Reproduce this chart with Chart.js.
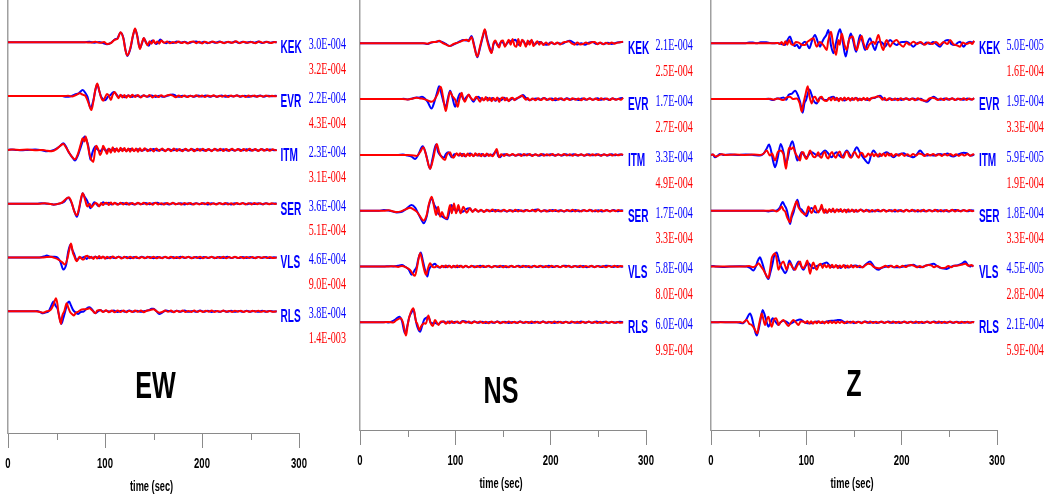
<!DOCTYPE html>
<html>
<head>
<meta charset="utf-8">
<script src="https://cdn.jsdelivr.net/npm/chart.js@4/dist/chart.umd.min.js"></script>
<style>
  html, body { margin: 0; padding: 0; background: #ffffff; }
  #wrap { position: relative; width: 1050px; height: 497px; overflow: hidden; }
  .panel { position: absolute; top: 0; width: 350px; height: 497px; }
</style>
</head>
<body>
<div id="wrap">
  <div class="panel" style="left:0px"><canvas id="c0" width="350" height="497"></canvas></div>
  <div class="panel" style="left:350px"><canvas id="c1" width="350" height="497"></canvas></div>
  <div class="panel" style="left:700px"><canvas id="c2" width="350" height="497"></canvas></div>
</div>
<script>
// ---------------- DATA ----------------
const components = ["EW", "NS", "Z"];
const stations = ["KEK", "EVR", "ITM", "SER", "VLS", "RLS"];
const xTickValues = [0, 50, 100, 150, 200, 250, 300];
const xAxisTitle = "time (sec)";

// peak amplitudes printed beside each trace (blue = observed, red = synthetic)
const ewBlueAmp = ["3.0E-004", "2.2E-004", "2.3E-004", "3.6E-004", "4.6E-004", "3.8E-004"];
const ewRedAmp  = ["3.2E-004", "4.3E-004", "3.1E-004", "5.1E-004", "9.0E-004", "1.4E-003"];
const nsBlueAmp = ["2.1E-004", "1.7E-004", "3.3E-004", "1.7E-004", "5.8E-004", "6.0E-004"];
const nsRedAmp  = ["2.5E-004", "2.7E-004", "4.9E-004", "3.3E-004", "8.0E-004", "9.9E-004"];
const zBlueAmp  = ["5.0E-005", "1.9E-004", "5.9E-005", "1.8E-004", "4.5E-005", "2.1E-004"];
const zRedAmp   = ["1.6E-004", "3.3E-004", "1.9E-004", "3.3E-004", "2.8E-004", "5.9E-004"];

// traces: flat lists of [time (s), normalised amplitude] pairs
// ---- EW ----
const ewKekBlue = [0,0, 78,0, 84,.03, 89,-.03, 94,.02, 98,-.06, 102,-.14, 106,-.04, 110,.2, 113,.3, 116,.7, 119,.3, 121,-.5, 123,-.98, 126,-.5, 129,.5, 131,.93, 133,.55, 136,-.42, 138,-.1, 140,.28, 142,.05, 145,-.25, 147,0, 149,.12, 151,-.02, 153,-.13, 155,.02, 157,.2, 160,.02, 163,-.06, 166,.04, 170,-.05, 174,.05, 178,-.03, 182,.04, 186,-.06, 190,.03, 194,.06, 198,-.04, 202,.03, 206,-.06, 210,.04, 214,-.03, 218,.05, 222,-.04, 226,.02, 230,-.03, 234,.06, 238,-.05, 242,.03, 246,-.04, 250,.04, 254,-.03, 258,.05, 262,-.05, 266,.04, 270,-.03, 274,.02, 277,0];
const ewKekRed = [0,0, 80,0, 85,-.02, 90,.03, 95,-.04, 99,.02, 102,-.12, 106,-.06, 110,.18, 113,.25, 116,.72, 119,.25, 121,-.55, 123,-.95, 126,-.45, 129,.55, 131,.98, 133,.5, 136,-.48, 138,-.05, 140,.3, 142,0, 144,-.22, 146,.08, 148,-.1, 150,.15, 152,-.08, 154,.06, 156,-.1, 158,.12, 161,-.04, 164,.05, 167,-.07, 170,.02, 173,-.04, 176,.06, 179,-.05, 182,.02, 185,-.08, 188,.03, 191,.06, 194,-.06, 197,.04, 200,-.08, 203,.03, 207,-.05, 211,.05, 215,-.04, 219,.03, 223,-.06, 227,.04, 231,-.04, 235,.07, 239,-.06, 243,.04, 247,-.03, 251,.02, 255,-.06, 259,.06, 263,-.04, 267,.03, 271,-.05, 275,.02, 277,0];
const ewEvrBlue = [0,0, 56,0, 60,-.05, 64,-.03, 69,.12, 73,.2, 77,.43, 80,.2, 82,-.05, 85,-.85, 88,-.3, 90,.4, 92,.85, 94,.4, 96,-.05, 100,-.3, 103,-.05, 106,.1, 109,.3, 112,.1, 114,-.05, 117,.05, 120,-.08, 124,.05, 128,-.06, 132,.04, 136,-.06, 140,.05, 144,-.05, 148,.04, 152,-.06, 156,.03, 160,-.05, 164,.02, 167,.08, 170,.12, 173,.02, 176,-.05, 180,.03, 184,-.04, 188,.03, 192,-.05, 196,.04, 200,-.03, 204,.05, 208,-.05, 212,.02, 216,-.04, 220,.04, 224,-.05, 228,.03, 232,-.03, 236,.05, 240,-.04, 244,.03, 248,-.05, 252,.02, 256,-.03, 260,.04, 264,-.04, 268,.03, 272,-.02, 276,.02, 277,0];
const ewEvrRed = [0,0, 58,0, 62,.03, 66,-.03, 70,.08, 74,.2, 77,.1, 80,0, 83,-.5, 86,-1.0, 88,-.4, 90,.45, 92,.9, 94,.4, 96,-.1, 98,-.33, 100,-.1, 102,.15, 104,.02, 106,-.28, 108,.1, 110,.3, 112,.05, 114,-.15, 116,.1, 118,-.1, 120,.08, 122,-.12, 124,.06, 126,-.08, 128,.1, 131,-.06, 134,.07, 137,-.1, 140,.06, 143,-.05, 146,.08, 149,-.1, 152,.05, 155,-.07, 158,.06, 161,-.04, 164,.05, 167,.1, 170,.03, 173,-.08, 176,.04, 179,-.06, 182,.05, 185,-.07, 188,.03, 191,-.04, 194,.06, 197,-.05, 200,.04, 203,-.07, 206,.05, 209,-.03, 212,.06, 215,-.06, 218,.03, 221,-.04, 224,.05, 227,-.06, 230,.04, 233,-.03, 236,.06, 239,-.05, 242,.03, 245,-.06, 248,.04, 251,-.03, 254,.05, 257,-.05, 260,.03, 263,-.04, 266,.05, 269,-.03, 272,.03, 275,-.02, 277,0];
const ewItmBlue = [0,0, 3,.02, 8,0, 14,-.03, 20,0, 28,.02, 35,-.03, 40,-.1, 45,-.05, 50,.1, 54,.3, 57,.48, 60,.2, 62,-.1, 66,-.5, 69,-.76, 72,-.4, 74,0, 77,.6, 79,.95, 81,.7, 83,.2, 85,-.7, 87,-.2, 90,.24, 92,.05, 95,-.1, 98,.1, 101,-.08, 104,.07, 107,-.05, 110,.06, 114,-.06, 118,.05, 122,-.05, 126,.06, 130,-.04, 134,.05, 138,-.06, 142,.04, 146,-.05, 150,.06, 154,-.04, 158,.03, 162,-.05, 166,.04, 170,-.03, 174,.05, 178,-.04, 182,.03, 186,-.05, 190,.04, 194,-.03, 198,.05, 202,-.04, 206,.03, 210,-.05, 214,.04, 218,-.03, 222,.04, 226,-.04, 230,.03, 234,-.05, 238,.04, 242,-.03, 246,.04, 250,-.04, 254,.03, 258,-.04, 262,.04, 266,-.03, 270,.03, 274,-.02, 277,0];
const ewItmRed = [0,0, 5,.02, 12,0, 20,.02, 30,-.02, 36,0, 40,-.06, 45,-.1, 50,.05, 54,.3, 57,.43, 60,.15, 63,-.2, 66,-.5, 69,-.67, 72,-.3, 75,.4, 77,.83, 79,.6, 80,.95, 82,.4, 84,-.3, 86,-.7, 88,-.86, 90,.1, 91,.3, 93,.05, 95,-.36, 97,-.05, 98,.29, 100,.05, 102,-.29, 104,.1, 106,-.2, 108,.18, 110,-.15, 112,.12, 114,-.14, 116,.15, 118,-.1, 120,.13, 122,-.12, 124,.1, 126,-.14, 128,.12, 130,-.1, 132,.1, 134,-.13, 136,.11, 138,-.08, 141,.12, 144,-.1, 147,.09, 150,-.11, 153,.1, 156,-.08, 159,.1, 162,-.1, 165,.08, 168,-.09, 171,.1, 174,-.08, 177,.07, 180,-.1, 183,.09, 186,-.07, 189,.08, 192,-.1, 195,.08, 198,-.07, 201,.09, 204,-.08, 207,.07, 210,-.09, 213,.08, 216,-.07, 219,.09, 222,-.08, 225,.06, 228,-.08, 231,.08, 234,-.07, 237,.07, 240,-.08, 243,.06, 246,-.07, 249,.08, 252,-.06, 255,.06, 258,-.08, 261,.07, 264,-.06, 267,.06, 270,-.07, 273,.05, 276,-.03, 277,0];
const ewSerBlue = [0,0, 30,0, 34,.03, 40,0, 44,-.02, 47,-.07, 51,-.02, 54,.02, 58,.15, 62,.45, 65,.15, 68,-.45, 71,-.93, 73,-.5, 75,.2, 77,.74, 79,.5, 82,.15, 85,-.33, 87,-.1, 89,.1, 91,0, 93,-.17, 96,-.05, 98,.1, 101,0, 104,.06, 107,-.05, 110,.04, 114,-.04, 118,.05, 122,-.04, 126,.03, 130,-.05, 134,.04, 138,-.03, 142,.05, 146,-.04, 150,.04, 154,.06, 158,-.04, 162,.03, 166,-.05, 170,.04, 174,-.03, 178,.04, 182,-.05, 186,.03, 190,-.04, 194,.04, 198,-.03, 202,.03, 206,-.05, 210,.04, 214,-.03, 218,.04, 222,-.04, 226,.03, 230,-.05, 234,.04, 238,-.03, 242,.04, 246,-.04, 250,.03, 254,-.03, 258,.04, 262,-.04, 266,.03, 270,-.03, 274,.02, 277,0];
const ewSerRed = [0,0, 32,0, 38,.03, 44,-.03, 48,-.06, 52,0, 56,.1, 60,.35, 63,.45, 66,0, 68,-.5, 71,-.83, 73,-.4, 75,.3, 77,.74, 79,.4, 81,-.1, 82,-.2, 84,0, 86,-.26, 88,-.1, 90,.05, 92,0, 94,-.2, 96,.05, 98,-.1, 100,.05, 102,.07, 104,-.1, 106,.08, 108,-.06, 110,.07, 113,-.08, 116,.06, 119,-.05, 122,.07, 125,-.07, 128,.05, 131,-.06, 134,.06, 137,-.05, 140,.07, 143,-.06, 146,.05, 149,-.07, 152,.06, 155,-.05, 158,.04, 161,-.06, 164,.05, 167,-.04, 170,.06, 173,-.05, 176,.04, 179,-.06, 182,.05, 185,-.04, 188,.05, 191,-.06, 194,.04, 197,-.05, 200,.05, 203,-.04, 206,.06, 209,-.05, 212,.04, 215,-.06, 218,.05, 221,-.04, 224,.05, 227,-.05, 230,.04, 233,-.06, 236,.05, 239,-.04, 242,.05, 245,-.05, 248,.04, 251,-.05, 254,.05, 257,-.04, 260,.04, 263,-.05, 266,.04, 269,-.04, 272,.03, 275,-.02, 277,0];
const ewVlsBlue = [0,0, 30,0, 34,.02, 38,.1, 40,.14, 44,.05, 48,.05, 51,0, 54,-.3, 57,-.86, 60,-.5, 62,.4, 64.5,.93, 66,.6, 68,.3, 70,-.1, 71.5,-.19, 74,0, 76,-.02, 79,.05, 81,-.1, 84,.05, 87,-.04, 90,.06, 94,-.05, 98,.04, 102,-.05, 106,.03, 110,-.04, 114,.05, 118,-.03, 122,.04, 126,-.05, 130,.03, 134,-.04, 138,.05, 142,-.03, 146,.04, 150,-.05, 154,.03, 158,-.03, 162,.04, 166,-.05, 170,.03, 174,-.04, 178,.05, 182,-.03, 186,.04, 190,-.04, 194,.03, 198,-.05, 202,.04, 206,-.03, 210,.04, 214,-.04, 218,.03, 222,-.03, 226,.05, 230,-.04, 234,.03, 238,-.04, 242,.04, 246,-.03, 250,.03, 254,-.04, 258,.04, 262,-.03, 266,.03, 270,-.04, 274,.02, 277,0];
const ewVlsRed = [0,0, 35,0, 40,.03, 44,.05, 48,-.03, 52,-.15, 56,-.35, 58.7,-.5, 61,-.15, 63,.5, 65,1.0, 67,.3, 68,.15, 70,-.2, 71,-.26, 73,0, 74,.05, 76,-.1, 78,-.15, 80,.1, 82,.12, 84,-.05, 86,.05, 88,-.1, 90,.07, 92,-.08, 94,.1, 96,-.06, 98,.08, 100,-.09, 102,.06, 105,-.06, 108,.07, 111,-.05, 114,.06, 117,-.07, 120,.05, 123,-.05, 126,.06, 129,-.05, 132,.05, 135,-.06, 138,.04, 141,-.05, 144,.06, 147,-.04, 150,.05, 153,-.06, 156,.04, 159,-.05, 162,.05, 165,-.04, 168,.06, 171,-.05, 174,.04, 177,-.05, 180,.05, 183,-.04, 186,.05, 189,-.06, 192,.04, 195,-.04, 198,.05, 201,-.05, 204,.04, 207,-.04, 210,.05, 213,-.05, 216,.03, 219,-.04, 222,.05, 225,-.05, 228,.04, 231,-.04, 234,.05, 237,-.04, 240,.03, 243,-.05, 246,.04, 249,-.04, 252,.04, 255,-.05, 258,.04, 261,-.03, 264,.04, 267,-.04, 270,.03, 273,-.03, 277,0];
const ewRlsBlue = [0,0, 26,0, 30,.02, 33,-.05, 36,-.14, 39,-.08, 42,.02, 44,.3, 47,.7, 49,.4, 51,.2, 53,-.4, 55,-.9, 57,-.5, 59,0, 61,.5, 63,.7, 65,.4, 67,.1, 70,-.1, 72.5,-.19, 75,-.05, 78,-.02, 81,.2, 84,.29, 87,.1, 90,-.14, 93,0, 95,.1, 98,-.02, 101,.04, 105,-.02, 109,.05, 113,-.05, 117,.04, 121,-.04, 125,.05, 129,-.03, 133,.04, 137,-.04, 141,.03, 145,.08, 148,.18, 150,.19, 153,0, 156,-.19, 159,-.1, 163,.05, 166,.02, 170,-.04, 174,.04, 178,-.03, 182,.05, 186,-.04, 190,.03, 194,-.04, 198,.05, 202,-.03, 206,.04, 210,-.05, 214,.03, 218,-.04, 222,.04, 226,-.03, 230,.04, 234,-.04, 238,.03, 242,-.04, 246,.04, 250,-.03, 254,.03, 258,-.04, 262,.04, 266,-.03, 270,.03, 274,-.02, 277,0];
const ewRlsRed = [0,0, 28,0, 32,-.03, 36,-.1, 40,0, 44,.1, 47,.5, 49.5,.93, 51,.5, 52,-.1, 54.6,-.9, 56,-.3, 58,0, 60.5,.57, 62,.3, 64,-.05, 66,-.2, 68,-.3, 70,-.1, 72.5,-.02, 75,.1, 78,.14, 81,.15, 84,.21, 87,.05, 90,-.14, 92,.05, 95,.1, 98,-.05, 101,.07, 104,-.06, 107,.05, 110,-.07, 113,.06, 116,-.05, 119,.06, 122,-.06, 125,.04, 128,-.05, 131,.06, 134,-.04, 137,.05, 140,-.06, 143,.04, 146,.08, 150,.14, 153,.02, 156,-.1, 159,-.05, 162,.05, 165,-.04, 168,.05, 171,-.06, 174,.04, 177,-.04, 180,.05, 183,-.05, 186,.03, 189,-.05, 192,.05, 195,-.04, 198,.04, 201,-.05, 204,.04, 207,-.03, 210,.05, 213,-.05, 216,.03, 219,-.04, 222,.05, 225,-.04, 228,.03, 231,-.05, 234,.04, 237,-.03, 240,.04, 243,-.05, 246,.03, 249,-.04, 252,.04, 255,-.03, 258,.04, 261,-.04, 264,.03, 267,-.04, 270,.03, 273,-.03, 277,0];
// ---- NS ----
const nsKekBlue = [0,0, 66,0, 70,-.05, 75,.05, 80,.12, 83,.15, 86,.1, 90,-.05, 94,-.19, 98,-.1, 101,0, 105,.15, 108,.24, 112,.2, 114,.22, 117,.52, 120,-.2, 123,-1.0, 126,-.3, 129,.5, 131,.95, 133,.4, 136,-.3, 138,-.67, 140,-.1, 142,.12, 145,-.19, 148,.1, 150,.05, 152,-.15, 155,.05, 157,.12, 160,.2, 163,.25, 166,-.1, 168,-.05, 171,.2, 174,-.1, 177,.05, 180,.2, 183,-.1, 186,.05, 189,.1, 192,-.05, 196,-.1, 200,.05, 204,-.05, 208,.03, 212,-.04, 216,.1, 220,.19, 224,.05, 228,-.08, 232,0, 236,-.1, 240,.05, 244,.1, 248,-.05, 252,.03, 256,-.06, 260,.04, 264,-.05, 268,.03, 272,.08, 275,.1, 276,.1];
const nsKekRed = [0,0, 68,0, 71,-.03, 75,.08, 80,.1, 83,.18, 86,.05, 90,-.08, 94,-.2, 98,-.05, 101,.02, 105,.1, 108,.2, 112,.25, 114,.15, 117,.45, 120,-.3, 123,-.95, 126,-.2, 129,.6, 131,1.0, 133,.3, 136,-.45, 138,-.7, 140,0, 142,.2, 144,-.1, 146,-.3, 148,.15, 150,.2, 152,-.25, 154,0, 156,.25, 158,-.1, 160,.3, 162,-.15, 164,-.25, 166,.3, 168,-.2, 170,.25, 172,.1, 174,-.25, 176,.2, 178,-.1, 180,.25, 182,-.2, 184,0, 186,.15, 188,-.1, 190,.1, 192,-.12, 195,.05, 198,-.1, 201,.08, 204,-.06, 207,.05, 210,-.08, 213,.06, 216,.1, 219,.15, 222,0, 225,-.1, 228,.05, 231,-.08, 234,-.05, 237,.06, 240,-.04, 243,.08, 246,.1, 249,-.06, 252,.05, 255,-.07, 258,.04, 261,-.05, 264,.06, 267,-.03, 270,.05, 273,.07, 276,.12];
const nsEvrBlue = [0,0, 42,0, 46,.02, 50,-.02, 55,.05, 59,.12, 62,.1, 65,.17, 68,.05, 71,-.2, 75,-.67, 78,-.2, 81,.5, 83,.93, 85,.5, 88,-.3, 90,-.55, 92,0, 94.5,.6, 97,.1, 99.7,-.55, 102,-.1, 105,.4, 107,.2, 109,-.07, 111,.1, 114,.29, 116,.1, 119,-.19, 121,0, 124,.17, 127,0, 130,-.05, 133,.1, 136,-.05, 139,.08, 142,-.12, 145,.05, 148,-.08, 151,.1, 154,-.05, 157,-.1, 160,.05, 163,-.05, 166,.1, 169,.2, 171,.29, 174,.1, 178,-.07, 181,0, 185,.05, 189,-.05, 193,.08, 197,-.05, 201,.05, 205,-.08, 209,.04, 213,-.05, 217,.06, 221,-.04, 225,.03, 229,-.07, 233,.04, 237,-.05, 241,.05, 245,-.04, 249,.06, 253,-.05, 257,.04, 261,-.06, 265,.05, 269,-.03, 273,.06, 276,.08];
const nsEvrRed = [0,0, 45,0, 50,-.02, 55,.03, 59,.1, 63,.05, 67,0, 71,-.1, 75,-.19, 78,-.05, 81,.3, 84.7,.88, 87,.2, 89.9,-.86, 92,-.2, 94.5,.52, 97,.2, 100,-.07, 102.5,-.55, 104,-.1, 106.7,.45, 108,.1, 110,-.19, 112,.1, 114,.33, 116,.1, 119,-.07, 122,.17, 124,0, 126,-.19, 128,.1, 130,-.1, 132,.15, 134,-.12, 136,.1, 138,-.15, 140,.08, 142,-.1, 144,.12, 146,-.2, 148,.05, 150,.12, 152,-.1, 154,.08, 156,-.15, 158,.05, 160,.1, 162,-.08, 164,.05, 166,.1, 168,.2, 170,.25, 172,.1, 174,-.05, 176,.08, 178,-.1, 181,.05, 184,-.08, 187,.06, 190,-.07, 193,.08, 196,-.06, 199,.05, 202,-.09, 205,.06, 208,-.05, 211,.07, 214,-.08, 217,.05, 220,-.06, 223,.07, 226,-.05, 229,.04, 232,-.08, 235,.06, 238,-.05, 241,.07, 244,-.06, 247,.05, 250,-.07, 253,.06, 256,-.04, 259,.05, 262,-.07, 265,.06, 268,-.05, 271,.02, 274,-.05, 276,.1];
const nsItmBlue = [0,0, 40,0, 45,.02, 50,-.05, 54,-.12, 58,-.29, 61,0, 65.8,.62, 69,.1, 73.5,-1.0, 76,-.3, 79.8,.74, 82,.2, 84.7,-.05, 88,-.2, 90,.05, 92.7,.19, 95,-.05, 96.2,-.17, 99,.05, 101.4,.07, 104,-.05, 107,.06, 110,-.1, 113,.05, 116,.1, 119,-.07, 122,.05, 125,-.05, 128,.07, 131,-.1, 134,.05, 137,-.04, 140,.05, 143,.3, 145,-.1, 147,-.17, 149,0, 152,.05, 156,-.05, 160,.03, 164,-.05, 168,.04, 172,-.03, 176,.05, 180,-.04, 184,.03, 188,-.06, 192,.04, 196,-.03, 200,.05, 204,-.04, 208,.03, 212,-.05, 216,.04, 220,-.03, 224,.05, 228,-.04, 232,.03, 236,-.05, 240,.04, 244,-.03, 248,.04, 252,-.04, 256,.03, 260,-.04, 264,.04, 268,-.03, 272,.03, 276,0];
const nsItmRed = [0,0, 50,0, 54,-.02, 59.5,-.07, 63,.2, 66.5,.55, 70,-.2, 73.5,-1.0, 77,-.2, 80.5,.79, 83,.2, 85.7,-.17, 89.2,-.36, 91,0, 94.5,.19, 96.2,-.1, 98,-.2, 101.4,.12, 103,-.05, 105,.12, 107,-.1, 109,.08, 111,-.12, 113,.1, 115,-.08, 117,.07, 119,-.1, 121,.12, 123,-.06, 125,.08, 127,-.1, 129,.06, 131,-.08, 133,.1, 135,-.07, 137,.05, 139,-.1, 141,.08, 143.4,.43, 145.9,-.17, 148,.05, 151,-.07, 154,.06, 157,-.05, 160,.07, 163,-.06, 166,.05, 169,-.07, 172,.06, 175,-.04, 178,.06, 181,-.07, 184,.05, 187,-.05, 190,.06, 193,-.06, 196,.05, 199,-.04, 202,.06, 205,-.06, 208,.04, 211,-.05, 214,.06, 217,-.05, 220,.04, 223,-.06, 226,.05, 229,-.04, 232,.05, 235,-.06, 238,.04, 241,-.05, 244,.05, 247,-.04, 250,.05, 253,-.06, 256,.04, 259,-.04, 262,.05, 265,-.05, 268,.04, 271,-.03, 274,.04, 276,0];
const nsSerBlue = [0,0, 20,0, 25,.05, 30,.02, 34,-.05, 38.5,-.12, 43,-.1, 48,.1, 54,.4, 58,.2, 61,-.19, 64,-.6, 67,-.9, 70,-.4, 72,.3, 75,.88, 78,.4, 80,.17, 82,-.2, 84,-.31, 88,-.5, 91.6,-.62, 94,0, 96,.4, 98,.1, 100,.05, 102,-.02, 103,.29, 105,-.1, 108,-.07, 111,.1, 115,.17, 118,-.05, 121,.07, 124,-.05, 127,.03, 130,-.05, 134,.04, 138,-.03, 142,.05, 146,-.04, 150,.03, 154,-.05, 158,.04, 162,-.03, 166,.05, 170,-.04, 174,.05, 178,-.03, 182,.04, 186,.08, 190,-.05, 194,.03, 198,-.04, 202,.05, 206,-.03, 210,.04, 214,-.05, 218,.03, 222,-.04, 226,.05, 230,-.05, 234,.04, 238,-.03, 242,.05, 246,-.04, 250,.03, 254,-.05, 258,.04, 262,-.03, 266,.05, 270,-.04, 274,.03, 276,0];
const nsSerRed = [0,0, 25,0, 30,.03, 35,-.05, 38.5,-.1, 43,-.05, 48,.1, 52.5,.21, 56,.1, 59.5,-.07, 63,-.4, 66.5,-.71, 70,-.3, 72,.4, 75.2,1.0, 78,.2, 79.8,-.31, 82,.29, 84,-.43, 86,-.1, 88,-.4, 91,-.55, 94.5,.4, 96.2,-.19, 98.6,.52, 100.7,-.19, 103.2,.4, 105.6,-.19, 108.4,.29, 111.9,-.14, 115.4,.17, 118,-.1, 121,.12, 124,-.08, 127,.07, 130,-.1, 133,.06, 136,-.05, 139,.08, 142,-.07, 145,.05, 148,-.06, 151,.07, 154,-.05, 157,.05, 160,-.07, 163,.06, 166,-.05, 169,.04, 172,-.06, 175,.05, 178,-.04, 181,.06, 184,-.05, 187,.08, 190,-.05, 193,.04, 196,-.06, 199,.05, 202,-.04, 205,.05, 208,-.06, 211,.04, 214,-.05, 217,.05, 220,-.04, 223,.06, 226,-.05, 229,.04, 232,-.05, 235,.05, 238,-.04, 241,.06, 244,-.05, 247,.04, 250,-.06, 253,.05, 256,-.04, 259,.05, 262,-.06, 265,.04, 268,-.04, 271,.05, 274,-.03, 276,0];
const nsVlsBlue = [0,0, 26,0, 30,.02, 35,0, 40,.05, 44,.1, 47,0, 51,-.2, 54.2,-.6, 57,-.3, 59.5,0, 61,.5, 63.7,1.0, 66,.4, 68.2,-.24, 70.7,-.71, 72,-.3, 74.2,0, 76,.1, 78.7,.19, 81,0, 84,-.07, 87,.03, 90,-.05, 93,.05, 96,-.06, 99,.04, 102,-.05, 105,.05, 108,-.04, 111,.03, 114,-.05, 118,.04, 122,-.03, 126,.05, 130,-.04, 134,.03, 138,-.05, 142,.04, 146,-.03, 150,.04, 154,-.05, 158,.03, 162,-.04, 166,.05, 170,-.03, 174,.04, 178,-.05, 182,.03, 186,-.04, 190,.04, 194,-.03, 198,.05, 202,-.04, 206,.03, 210,-.04, 214,.05, 218,.03, 222,-.04, 226,.04, 230,-.03, 234,.04, 238,-.05, 242,.03, 246,-.03, 250,.04, 254,-.04, 258,.05, 262,.03, 266,-.03, 270,.04, 274,-.02, 276,0];
const nsVlsRed = [0,0, 30,0, 35,.02, 40,-.03, 44,.04, 48,-.05, 52.5,-.24, 55,-.5, 57.7,-.67, 60,0, 63,.95, 65,.5, 66.5,0, 68,-.4, 69.3,-.6, 71,-.2, 73.5,.24, 76,-.02, 78.7,-.05, 81,.05, 84,-.07, 86,.05, 88,-.06, 90,.07, 92,-.05, 94,.06, 96,-.08, 98,.05, 100,-.06, 102,.07, 104,-.04, 106,.05, 108,-.07, 111,.06, 114,-.05, 117,.05, 120,-.06, 123,.04, 126,-.05, 129,.06, 132,-.04, 135,.05, 138,-.06, 141,.04, 144,-.04, 147,.05, 150,-.06, 153,.04, 156,-.05, 159,.06, 162,-.04, 165,.04, 168,-.05, 171,.05, 174,-.04, 177,.04, 180,-.06, 183,.05, 186,-.04, 189,.05, 192,-.05, 195,.04, 198,-.05, 201,.05, 204,-.04, 207,.04, 210,-.05, 213,.05, 216,-.04, 219,.05, 222,-.05, 225,.04, 228,-.04, 231,.05, 234,-.05, 237,.04, 240,-.04, 243,.05, 246,-.05, 249,.04, 252,-.04, 255,.04, 258,-.05, 261,.04, 264,-.04, 267,.05, 270,-.03, 273,.03, 276,0];
const nsRlsBlue = [0,0, 22,0, 27,.02, 30,-.02, 33,.05, 37,.2, 41.3,.4, 44,.1, 47.2,-.79, 49.5,-.3, 51.8,.4, 54,.7, 56,.93, 58,.3, 60,-.3, 63,-.67, 65,-.3, 67.2,.17, 69,.3, 71.7,.4, 74,0, 76.3,-.07, 79,-.05, 82.2,-.12, 85,0, 88,.05, 91,-.04, 94,.06, 97,-.03, 100,.04, 104,-.05, 108,.1, 112,.03, 116,-.04, 120,.05, 124,-.03, 128,.04, 132,-.05, 136,.03, 140,-.04, 144,.05, 148,-.03, 152,.04, 156,-.05, 160,.03, 164,-.04, 168,.05, 172,-.04, 176,.03, 180,-.05, 184,.04, 188,-.03, 192,.05, 196,-.04, 200,.03, 204,-.05, 208,.04, 212,-.03, 216,.04, 220,-.05, 224,.03, 228,-.04, 232,.05, 236,-.03, 240,.04, 244,-.04, 248,.05, 252,-.03, 256,.04, 260,-.04, 264,.03, 268,-.03, 272,.04, 276,0];
const nsRlsRed = [0,0, 25,0, 30,.03, 35,-.02, 38.5,.17, 42.7,.29, 45,0, 48.3,-.95, 50,-.2, 51.8,.4, 56,1.0, 58.8,.05, 60,-.1, 62.3,-.55, 64,-.3, 67.2,-.07, 69,-.1, 71.7,.48, 74,-.05, 76.3,-.26, 78.7,.17, 82.2,-.19, 85,.05, 87.5,.05, 90,-.1, 92,.05, 94,-.07, 96,.08, 99,-.05, 102,.06, 105,-.07, 108,.08, 111,-.04, 114,.05, 117,-.06, 120,.05, 123,-.04, 126,.06, 129,-.05, 132,.04, 135,-.06, 138,.05, 141,-.04, 144,.05, 147,-.06, 150,.04, 153,-.04, 156,.05, 159,-.05, 162,.04, 165,-.05, 168,.05, 171,-.04, 174,.04, 177,-.05, 180,.05, 183,-.04, 186,.04, 189,-.05, 192,.05, 195,-.04, 198,.04, 201,-.05, 204,.05, 207,-.04, 210,.04, 213,-.05, 216,.04, 219,-.04, 222,.05, 225,-.04, 228,.04, 231,-.05, 234,.04, 237,-.04, 240,.05, 243,-.04, 246,.04, 249,-.05, 252,.04, 255,-.04, 258,.05, 261,-.04, 264,.04, 267,-.04, 270,.03, 273,-.03, 276,0];
// ---- Z ----
const zKekBlue = [0,0, 35,0, 40,.05, 44,.05, 48,0, 52,.07, 58,.07, 62,.02, 66,0, 70,.02, 74,-.05, 77.7,-.12, 80,.2, 82.9,.48, 85,.1, 87.5,-.2, 90,-.1, 92.7,-.36, 95,-.1, 98.6,.12, 101,-.1, 103.2,-.36, 106,.2, 109.1,.6, 112,.1, 114.4,-.24, 116,0, 118.6,.36, 121,.6, 123.1,.95, 126,-.2, 128.4,-.71, 131,0, 133,.6, 135.4,1.0, 138,.2, 141.3,-.95, 144,0, 146.6,.71, 149,.2, 152.2,-.6, 154,-.1, 156.4,.6, 159,.1, 161.6,-.48, 164,0, 166.9,.36, 169,0, 172.1,-.48, 174,-.1, 175.6,.12, 178,.1, 180.8,-.05, 182.6,-.24, 185,0, 187.8,.24, 191,.05, 194.8,-.12, 198,.05, 201.8,.1, 205.3,.12, 209,-.05, 212.3,-.24, 216,0, 219.3,.05, 223,-.08, 226,.05, 229.8,-.05, 233,.1, 236,-.05, 240.3,-.24, 243,0, 246,.2, 249,.24, 252,-.05, 256,-.12, 259,.05, 261.3,.12, 264.8,-.24, 268,0, 271.8,.12, 274,.05, 276,.15];
const zKekRed = [0,0, 66,0, 70,.03, 72,-.05, 74,.1, 76,-.12, 78,.15, 80,-.1, 82,.24, 84,-.05, 86.4,-.12, 89,.1, 92,.05, 95,-.1, 98.6,-.12, 101,.1, 104,.24, 107.4,.36, 110.9,-.24, 114,.1, 116.1,0, 118.6,-.2, 121.4,-.48, 123,.2, 125.9,.83, 128,0, 131.2,-.83, 133.6,.24, 135,-.1, 137.1,.71, 140,-.1, 142.4,-.48, 145,.3, 148.7,.48, 151,-.2, 152.9,-.48, 155,0, 158.1,.52, 160,0, 163.4,-.43, 166,-.1, 170.4,.12, 172,-.05, 175.6,.6, 178,0, 180.8,-.48, 183,.1, 184.4,.24, 186,0, 187.8,-.24, 190,0, 194.8,.24, 198,-.05, 201.8,-.24, 205,.05, 208,-.1, 212.3,.12, 216,-.05, 220,.1, 224,-.1, 228,.05, 232,-.05, 236,.1, 240,-.12, 244,.1, 248,-.05, 250.8,.24, 254,-.05, 258,-.15, 261.3,-.24, 264,.05, 268,-.05, 271.8,.05, 274,-.05, 276,.19];
const zEvrBlue = [0,0, 55,0, 60,.02, 65.4,-.07, 69,.05, 72.4,.05, 76,.12, 79,-.05, 81.2,.29, 85,.4, 88.2,.6, 91,.3, 93.4,-.19, 96.2,-.98, 98,-.3, 99.7,-.07, 103.2,.69, 105.6,.3, 107.4,-.07, 110.9,-.31, 113,0, 114.4,.12, 117,0, 121.4,-.07, 125,.1, 128.4,.17, 132,-.05, 136,.05, 140,-.1, 144,.05, 148,-.05, 152,.08, 156,-.05, 160,.03, 164,-.07, 168,.05, 172,.1, 177.4,.24, 181,0, 184.4,-.07, 188,.04, 192,-.05, 196,.03, 200,-.06, 204,.04, 208,-.03, 212,.05, 216,-.04, 220,.03, 223,-.1, 226.3,-.19, 230,0, 233.3,.17, 237,.02, 241,-.05, 245,.04, 249,-.03, 253,.05, 257,-.04, 261,.03, 265,-.05, 269,.04, 273,-.03, 276,.05];
const zEvrRed = [0,0, 57,0, 62,.02, 66,-.03, 70,.04, 75.9,-.07, 79,.1, 82.9,.17, 86,0, 89.9,.05, 93,-.3, 95.2,-.9, 97,-.3, 99,.3, 101.5,.93, 103,.3, 105.6,-.31, 107.4,.1, 109.1,.17, 110.9,-.05, 112.6,-.19, 114.4,.12, 116.1,.17, 118,-.05, 121.4,-.14, 124,.1, 126,-.1, 128,.12, 130,-.08, 132,.1, 134,-.15, 136,.08, 138,-.1, 140,.12, 142,-.06, 144,.1, 146,-.12, 148,.08, 150,-.06, 152,.1, 154,-.12, 156,.05, 158,-.08, 160,.1, 162,-.06, 164,.08, 166,-.1, 168,.05, 170,.1, 172,.12, 175,.2, 178,.1, 180,-.05, 182,.1, 184,-.08, 187,.06, 190,-.07, 193,.05, 196,-.08, 199,.06, 202,-.05, 205,.07, 208,-.06, 211,.05, 214,-.08, 217,.06, 220,-.05, 223,-.1, 226,-.12, 229,.05, 232,.1, 235,.05, 238,-.06, 241,.05, 244,-.07, 247,.06, 250,-.05, 253,.06, 256,-.07, 259,.05, 262,-.05, 265,.06, 268,-.06, 271,.04, 274,-.05, 276,.08];
const zItmBlue = [0,0, 2,.02, 4.2,-.17, 7,-.05, 9.4,.07, 13,0, 20,.02, 28,0, 36,.03, 44,0, 51.4,-.05, 54.9,.07, 58,.4, 60.9,.74, 63,.3, 65,-.4, 67.2,-.88, 70,-.2, 73.1,.79, 76,.2, 78.7,-.64, 81,-.1, 83,.6, 85.4,.98, 88,.3, 90.6,-.4, 93,-.1, 95,.19, 98,-.05, 100.4,-.17, 103,.05, 105.6,.19, 109,.05, 112.6,-.05, 116,.1, 119.6,.31, 123,.1, 126.6,-.17, 129,.05, 131.9,.19, 134,0, 137.1,-.17, 140,.1, 142.4,.31, 145,.1, 147.6,-.17, 150,.2, 152.9,.55, 156,.2, 159.9,-.21, 162,-.4, 165.1,-.6, 168,0, 170.4,.31, 173,.1, 175.6,-.12, 180,.05, 184.4,.19, 188,0, 191.3,-.17, 195,0, 198,.05, 201.8,.12, 206,-.05, 209,-.1, 212.3,-.17, 216,.05, 219.3,.31, 223,.05, 226.3,-.05, 230,0, 234,-.05, 238,.05, 240.3,.07, 244,0, 248,.1, 251,-.05, 254.3,-.12, 258,0, 262,.1, 265,.15, 268.3,.12, 272,-.05, 275.3,0, 276,.05];
const zItmRed = [0,0, 2,.02, 5,-.12, 8,-.03, 11,.05, 15,0, 25,.02, 35,0, 45,.02, 51.4,0, 55,.08, 58.4,.31, 61.9,-.05, 64,.1, 67.2,-.4, 70,.2, 72.4,.31, 75.9,.07, 78.7,-1.0, 80,-.3, 81.5,.4, 82.9,.55, 84,.4, 86.4,.55, 88,.2, 89.9,-.05, 91.5,-.2, 93.4,-.4, 95.2,.19, 96.9,.19, 98.5,-.15, 100.4,-.29, 102,0, 103.9,.31, 105.6,.1, 107,-.1, 109.1,-.17, 110.9,0, 112.6,.19, 114,-.1, 116,-.2, 117.7,.1, 119.6,.2, 121,-.1, 123,-.25, 125,.05, 127,.2, 129,-.05, 131,-.2, 133,.1, 135,.25, 137,-.1, 139,-.2, 141,.15, 143,.25, 145,-.1, 147,-.2, 149,.1, 151,.2, 153,-.05, 155,-.2, 157,.15, 159,.1, 161,-.15, 163,-.1, 165,.1, 167,-.05, 169,.12, 171,-.1, 173,.08, 175,-.12, 177,.1, 179,-.08, 181,.1, 183,-.1, 185,.12, 187,-.05, 189,.08, 191,-.1, 194,.07, 197,-.06, 200,.08, 203,-.07, 206,.05, 209,-.08, 212,.06, 215,-.05, 218,.1, 221,.05, 224,-.08, 227,.06, 230,-.05, 233,.07, 236,-.06, 239,.05, 242,-.07, 245,.06, 248,-.05, 251,.07, 254,-.06, 257,.05, 260,-.07, 263,.05, 266,-.05, 269,.07, 272,-.06, 275,.05, 276,0];
const zSerBlue = [0,0, 55,0, 60,-.05, 65,0, 68.9,.02, 72,.2, 75.2,.62, 77,.4, 79.4,.07, 81,-.4, 82.9,-.95, 84.5,-.5, 86.4,-.17, 88.5,.4, 90.6,.79, 93,.2, 95.2,.07, 98,-.2, 100.4,-.4, 102,-.1, 105.6,.19, 109.1,-.1, 110.9,-.12, 114,.05, 116.1,.19, 119,-.05, 121.4,-.12, 125,.05, 129,-.05, 133,.06, 137,-.04, 141,.05, 145,-.06, 149,.04, 153,-.05, 157,.06, 161,-.03, 165,.04, 169,-.05, 173,.03, 177,-.04, 181,.05, 185,-.03, 189,.04, 193,-.05, 197,.03, 201,-.04, 205,.05, 209,-.03, 213,.04, 217,-.05, 221,.03, 225,-.04, 229,.04, 233,-.03, 237,.05, 241,-.04, 245,.03, 249,-.05, 253,.04, 257,.05, 261,-.03, 265,.04, 269,-.04, 273,.03, 276,0];
const zSerRed = [0,0, 60,0, 65,.03, 68.9,-.05, 72,.1, 74.2,.31, 76,.05, 77.7,-.05, 80,-.5, 82.9,-.83, 84.5,-.3, 86.4,.07, 88,.4, 89.9,.67, 91.5,.3, 93.4,.07, 95.2,-.1, 97,-.2, 98.6,-.29, 100.4,-.1, 102.2,.31, 104,0, 105.6,-.17, 107.4,.1, 109.1,.36, 111,0, 112.6,-.12, 114.5,.1, 116.1,.43, 117.5,0, 118.6,-.17, 120,.1, 122,-.15, 124,.12, 126,-.1, 128,.15, 130,-.12, 132,.1, 134,-.08, 136,.12, 138,-.1, 140,.08, 142,-.12, 144,.1, 146,-.06, 148,.08, 150,-.1, 152,.07, 154,-.06, 157,.08, 160,-.07, 163,.06, 166,-.08, 169,.05, 172,-.06, 175,.07, 178,-.05, 181,.06, 184,-.07, 187,.05, 190,-.05, 193,.07, 196,-.06, 199,.05, 202,-.07, 205,.06, 208,-.05, 211,.06, 214,-.06, 217,.05, 220,-.05, 223,.06, 226,-.06, 229,.05, 232,-.05, 235,.06, 238,-.05, 241,.05, 244,-.06, 247,.05, 250,-.05, 253,.06, 256,-.05, 259,.05, 262,-.06, 265,.05, 268,-.04, 271,.05, 274,-.04, 276,0];
const zVlsBlue = [0,0, 2,.03, 5,0, 12,-.03, 20,0, 30,.02, 37.4,0, 41,-.1, 44.4,-.29, 47,0, 49,.4, 51.4,.67, 53,.4, 54.9,0, 57,-.5, 60.2,-.9, 62,-.5, 64.7,.24, 66,.7, 68.9,1.0, 71,.5, 73.5,0, 75.9,-.3, 77.7,-.48, 80,-.2, 82.2,.43, 84,.2, 87.1,-.24, 89,0, 91.7,.36, 94,.1, 96.9,-.24, 99,0, 102.2,.24, 105,0, 107.4,-.12, 110,0, 114.4,.12, 118,.2, 121.4,.29, 124,.1, 128.4,-.05, 132,.05, 136,-.1, 140,.08, 144,-.07, 148,.04, 152,.08, 156,-.05, 160,0, 163,.2, 166.9,.36, 170,.1, 172,-.1, 175.6,-.24, 179,-.1, 184.4,0, 188,.05, 192,-.05, 198.3,-.05, 204,.05, 208,.08, 212.3,.12, 216,0, 220,-.05, 225,.05, 229,.12, 233.3,.19, 237,.05, 241,-.1, 244,-.15, 247.3,-.17, 251,-.05, 255,.05, 259,.1, 263,.2, 266.6,.36, 269,.15, 271.8,0, 273,.05, 275.3,.05];
const zVlsRed = [0,0, 35,0, 40,.03, 44,-.05, 48,.1, 49.7,.24, 52,.05, 54.9,-.24, 57,-.5, 60.2,-.83, 62,-.2, 63.7,.6, 65,.8, 67.2,.95, 69,.5, 70.7,-.24, 73,.1, 75.9,.36, 78,0, 79.4,-.24, 81,.1, 82.9,.24, 85,0, 88.2,-.24, 90,0, 93.4,.36, 95,0, 96.9,-.12, 99,.1, 101.1,.43, 103.9,-.52, 106,.1, 107.4,.29, 109,0, 110.9,-.24, 113,.1, 115,.2, 117,-.1, 119,.15, 121,-.05, 123,.1, 125,-.1, 127,.12, 129,-.08, 131,.1, 133,-.12, 135,.08, 137,-.06, 139,.1, 141,-.1, 143,.07, 145,-.05, 147,.1, 149,-.08, 151,.06, 153,-.05, 156,.05, 159,-.07, 162,.1, 165,.2, 168,.15, 171,-.05, 174,-.1, 177,-.12, 180,-.05, 183,.05, 186,-.06, 189,.05, 192,-.05, 195,.06, 198,-.06, 201,.05, 204,-.04, 207,.06, 210,.1, 213,.05, 216,-.06, 219,.04, 222,-.05, 225,.06, 228,.1, 231,.08, 234,-.05, 237,.04, 240,-.06, 243,-.1, 246,-.08, 249,.04, 252,-.05, 255,.06, 258,.05, 261,.1, 264,.15, 267,.2, 270,.05, 273,.1, 275.3,0];
const zRlsBlue = [0,0, 5,0, 10,.02, 20,0, 26.9,0, 30,-.03, 33.9,-.07, 37,.2, 41,.64, 43,.3, 45,-.3, 47.9,-.95, 50,-.5, 52,.2, 54.2,.88, 56,.6, 58,.1, 60.2,-.31, 62,-.1, 64.7,.29, 67,.1, 70.7,-.19, 73,0, 75.9,.12, 79,.05, 82.9,-.12, 86,0, 89,.1, 93.4,.21, 97,.05, 100,-.05, 103.9,-.07, 108,0, 112,.05, 116,-.05, 120,.03, 124,.1, 128,.12, 132,.15, 135.4,.17, 139,.05, 142,-.05, 146,.04, 150,-.06, 154,.04, 158,-.03, 162,.05, 166,-.04, 170,.03, 174,-.05, 178,.04, 182,-.03, 186,.05, 190,-.04, 194,.03, 198,-.05, 202,.04, 206,-.03, 210,.04, 214,-.04, 218,.03, 222,-.05, 226,.04, 230,-.03, 234,.05, 238,-.04, 242,.03, 246,-.04, 250,.04, 254,-.03, 258,.04, 262,-.04, 266,.03, 270,-.03, 274,.02, 276,0];
const zRlsRed = [0,0, 28,0, 30.4,.02, 33,-.03, 35,.05, 37.4,.17, 40,-.1, 42.7,-.19, 45,-.4, 48.6,-.79, 50,-.3, 51.5,.2, 53.2,.64, 55,.2, 56.7,-.19, 58.5,.2, 60.2,.4, 62,0, 63.7,-.31, 66,.2, 68.2,.29, 70,0, 70.7,-.19, 73,0, 75.9,.17, 78,0, 81.2,-.26, 84,0, 86.4,.17, 89,0, 91.7,-.19, 94,.05, 96.9,.05, 99,-.05, 101,.1, 103,-.08, 105,.07, 107,-.1, 109,.06, 111,-.07, 113,.08, 115,-.05, 117,.06, 119,-.08, 121,.05, 123,-.06, 125,.07, 127,-.05, 129,.05, 131,-.07, 133,.06, 135,-.05, 137,.05, 140,-.06, 143,.05, 146,-.04, 149,.06, 152,-.05, 155,.04, 158,-.06, 161,.05, 164,-.04, 167,.05, 170,-.05, 173,.04, 176,-.04, 179,.05, 182,-.05, 185,.04, 188,-.04, 191,.05, 194,-.05, 197,.04, 200,-.04, 203,.05, 206,-.05, 209,.04, 212,-.04, 215,.05, 218,-.05, 221,.04, 224,-.04, 227,.05, 230,-.05, 233,.04, 236,-.04, 239,.05, 242,-.05, 245,.04, 248,-.04, 251,.05, 254,-.04, 257,.04, 260,-.05, 263,.04, 266,-.04, 269,.04, 272,-.03, 275,.03, 276,0];

const ewBlueTraces = [ewKekBlue, ewEvrBlue, ewItmBlue, ewSerBlue, ewVlsBlue, ewRlsBlue];
const ewRedTraces  = [ewKekRed,  ewEvrRed,  ewItmRed,  ewSerRed,  ewVlsRed,  ewRlsRed];
const nsBlueTraces = [nsKekBlue, nsEvrBlue, nsItmBlue, nsSerBlue, nsVlsBlue, nsRlsBlue];
const nsRedTraces  = [nsKekRed,  nsEvrRed,  nsItmRed,  nsSerRed,  nsVlsRed,  nsRlsRed];
const zBlueTraces  = [zKekBlue,  zEvrBlue,  zItmBlue,  zSerBlue,  zVlsBlue,  zRlsBlue];
const zRedTraces   = [zKekRed,   zEvrRed,   zItmRed,   zSerRed,   zVlsRed,   zRlsRed];

// ---------------- LAYOUT / STYLE ----------------
const BLUE = '#0000ff', RED = '#ff0000', AXIS = '#8a8a8a';
const panelLayout = [
  { padL: 8,  padR: 51, padB: 49, yMax: 0.786, yMin: -7.262, gain: 0.26, titleX: 152, titleY: -6.43 },
  { padL: 10, padR: 54, padB: 52, yMax: 0.776, yMin: -6.930, gain: 0.25, titleX: 148, titleY: -6.27 },
  { padL: 11, padR: 53, padB: 52, yMax: 0.776, yMin: -6.930, gain: 0.25, titleX: 150, titleY: -6.13 }
];
const panelBlue = [ewBlueTraces, nsBlueTraces, zBlueTraces];
const panelRed = [ewRedTraces, nsRedTraces, zRedTraces];
const panelBlueAmp = [ewBlueAmp, nsBlueAmp, zBlueAmp];
const panelRedAmp = [ewRedAmp, nsRedAmp, zRedAmp];

function toPoints(flat, k, gain) {
  const pts = [];
  for (let i = 0; i < flat.length; i += 2) pts.push({ x: flat[i], y: -k + flat[i + 1] * gain });
  return pts;
}

function drawText(ctx, text, x, y, font, color, sx, align) {
  ctx.save();
  ctx.font = font;
  ctx.fillStyle = color;
  ctx.textBaseline = 'middle';
  ctx.textAlign = align;
  ctx.translate(x, y);
  ctx.scale(sx, 1);
  ctx.fillText(text, 0, 0);
  ctx.restore();
}

const seisText = {
  id: 'seisText',
  afterDraw(chart) {
    const o = chart.options.plugins.seisText;
    const ctx = chart.ctx;
    const xs = chart.scales.x, ys = chart.scales.y;
    const bottom = ys.bottom;
    ctx.save();
    ctx.strokeStyle = AXIS;
    ctx.lineWidth = 1;
    xs.ticks.forEach(t => {
      if (t.value % 100 !== 0) {
        const px = Math.round(xs.getPixelForValue(t.value)) + 0.5;
        ctx.beginPath(); ctx.moveTo(px, bottom); ctx.lineTo(px, bottom + 7); ctx.stroke();
      }
    });
    ctx.restore();
    xs.ticks.forEach(t => {
      if (t.value % 100 === 0)
        drawText(ctx, String(t.value), xs.getPixelForValue(t.value), bottom + 31,
          "bold 14px 'Liberation Sans', Arial, sans-serif", '#000', 0.68, 'center');
    });
    drawText(ctx, xAxisTitle, xs.getPixelForValue(148), bottom + 54,
      "bold 14px 'Liberation Sans', Arial, sans-serif", '#000', 0.66, 'center');
    drawText(ctx, o.title, xs.getPixelForValue(o.titleX), ys.getPixelForValue(o.titleY),
      "bold 37px 'Liberation Sans', Arial, sans-serif", '#000', 0.68, 'center');
    stations.forEach((s, k) => {
      drawText(ctx, s, xs.getPixelForValue(281), ys.getPixelForValue(-k - 0.11),
        "bold 18px 'Liberation Sans', Arial, sans-serif", BLUE, 0.56, 'left');
      drawText(ctx, o.blueAmp[k], xs.getPixelForValue(310), ys.getPixelForValue(-k - 0.05),
        "16px 'Liberation Serif', 'Times New Roman', serif", BLUE, 0.63, 'left');
      drawText(ctx, o.redAmp[k], xs.getPixelForValue(310), ys.getPixelForValue(-k - 0.51),
        "16px 'Liberation Serif', 'Times New Roman', serif", RED, 0.63, 'left');
    });
  }
};

components.forEach((comp, p) => {
  const L = panelLayout[p];
  const datasets = [];
  stations.forEach((s, k) => {
    datasets.push({ label: s + ' ' + comp + ' synthetic', data: toPoints(panelRed[p][k], k, L.gain),
      borderColor: RED, borderWidth: 2, pointRadius: 0, cubicInterpolationMode: 'monotone', order: 0 });
    datasets.push({ label: s + ' ' + comp + ' observed', data: toPoints(panelBlue[p][k], k, L.gain),
      borderColor: BLUE, borderWidth: 2, pointRadius: 0, cubicInterpolationMode: 'monotone', order: 1 });
  });
  new Chart(document.getElementById('c' + p), {
    type: 'line',
    data: { datasets },
    plugins: [seisText],
    options: {
      responsive: false,
      animation: false,
      devicePixelRatio: 1,
      parsing: false,
      layout: { padding: { left: L.padL, right: L.padR, top: 0, bottom: L.padB } },
      plugins: {
        legend: { display: false },
        tooltip: { enabled: false },
        seisText: { title: comp, titleX: L.titleX, titleY: L.titleY, blueAmp: panelBlueAmp[p], redAmp: panelRedAmp[p] }
      },
      scales: {
        x: {
          type: 'linear', min: xTickValues[0], max: xTickValues[xTickValues.length - 1],
          afterBuildTicks: (sc) => { sc.ticks = xTickValues.map(v => ({ value: v })); },
          ticks: { display: false },
          grid: { display: true, drawOnChartArea: false, drawTicks: true, tickLength: 15, lineWidth: 1,
                  color: (c) => (c.tick && c.tick.value % 100 === 0) ? AXIS : 'rgba(0,0,0,0)' },
          border: { display: true, color: AXIS, width: 1 }
        },
        y: {
          type: 'linear', min: L.yMin, max: L.yMax,
          ticks: { display: false },
          grid: { display: false, drawTicks: false },
          border: { display: true, color: '#a0a0a0', width: 1.5 }
        }
      }
    }
  });
});
</script>
</body>
</html>
